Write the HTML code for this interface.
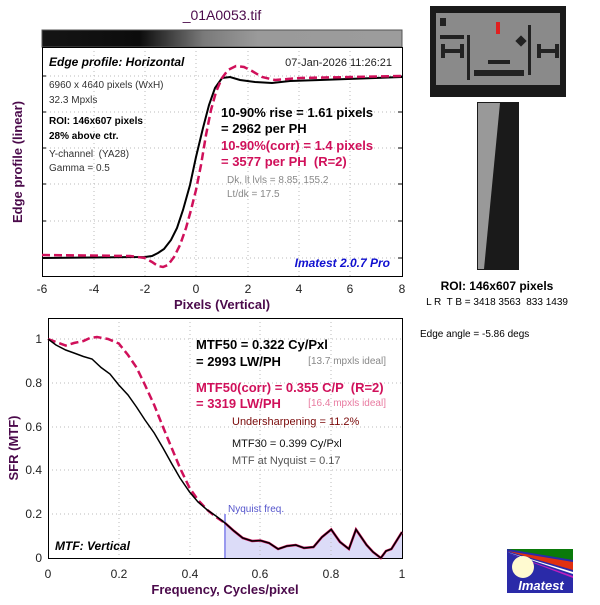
<!DOCTYPE html>
<html><head><style>
body{margin:0;background:#fff;}
svg text{font-family:"Liberation Sans",sans-serif;white-space:pre;}
</style></head><body>
<svg width="600" height="600" xmlns="http://www.w3.org/2000/svg">
<defs>
<linearGradient id="g" x1="42" x2="402" y1="0" y2="0" gradientUnits="userSpaceOnUse">
<stop offset="0" stop-color="#151515"/><stop offset="0.27" stop-color="#0c0c0c"/><stop offset="0.45" stop-color="#7a7a7a"/><stop offset="0.6" stop-color="#9a9a9a"/><stop offset="1" stop-color="#9c9c9c"/></linearGradient>
</defs>
<rect width="600" height="600" fill="#fff"/>
<text x="222" y="20" font-size="14" fill="#4b0a4b" text-anchor="middle">_01A0053.tif</text>
<rect x="42" y="30" width="360" height="17" fill="url(#g)" stroke="#555" stroke-width="1"/>
<g stroke="#bbb" stroke-dasharray="1,3" stroke-width="1">
<line x1="94" y1="47" x2="94" y2="276"/><line x1="145" y1="47" x2="145" y2="276"/><line x1="196" y1="47" x2="196" y2="276"/><line x1="248" y1="47" x2="248" y2="276"/><line x1="299" y1="47" x2="299" y2="276"/><line x1="350" y1="47" x2="350" y2="276"/>
<line x1="42" y1="76" x2="402" y2="76"/><line x1="42" y1="112" x2="402" y2="112"/><line x1="42" y1="148" x2="402" y2="148"/><line x1="42" y1="184" x2="402" y2="184"/><line x1="42" y1="221" x2="402" y2="221"/><line x1="42" y1="258" x2="402" y2="258"/>
</g>
<g stroke="#000"><line x1="42" y1="76" x2="46" y2="76"/><line x1="42" y1="112" x2="46" y2="112"/><line x1="42" y1="148" x2="46" y2="148"/><line x1="42" y1="184" x2="46" y2="184"/><line x1="42" y1="221" x2="46" y2="221"/><line x1="42" y1="258" x2="46" y2="258"/>
<line x1="402" y1="76" x2="398" y2="76"/><line x1="402" y1="112" x2="398" y2="112"/><line x1="402" y1="148" x2="398" y2="148"/><line x1="402" y1="184" x2="398" y2="184"/><line x1="402" y1="221" x2="398" y2="221"/><line x1="402" y1="258" x2="398" y2="258"/></g>
<rect x="42.5" y="47.5" width="360" height="229" fill="none" stroke="#000"/>
<polyline fill="none" stroke="#000" stroke-width="2" points="42,258 145,257 152,256 158,253 164,249 171,240 177,228 183,210 190,185 196,157 203,128 209,105 215,88 222,78 230,77 240,80 255,82 272,83 290,81 320,80 402,77"/>
<polyline fill="none" stroke="#d0105a" stroke-width="2.5" stroke-dasharray="8,4" points="42,255 130,256 145,258 152,262 158,266 163,267 168,265 174,257 180,245 186,228 191,210 196,190 201,165 206,135 211,110 216,92 222,78 228,70 236,66 244,67 252,71 262,77 275,80 300,78 402,76"/>
<text x="49" y="66" font-size="12" font-weight="bold" font-style="italic">Edge profile: Horizontal</text>
<text x="392" y="66" font-size="11" text-anchor="end" fill="#222">07-Jan-2026 11:26:21</text>
<text x="49" y="88" font-size="10" fill="#333">6960 x 4640 pixels (WxH)</text>
<text x="49" y="103" font-size="10" fill="#333">32.3 Mpxls</text>
<text x="49" y="124" font-size="10" font-weight="bold">ROI: 146x607 pixels</text>
<text x="49" y="139" font-size="10" font-weight="bold">28% above ctr.</text>
<text x="49" y="157" font-size="10" fill="#333">Y-channel  (YA28)</text>
<text x="49" y="171" font-size="10" fill="#333">Gamma = 0.5</text>
<text x="221" y="117" font-size="13" font-weight="bold">10-90% rise = 1.61 pixels</text>
<text x="221" y="133" font-size="13" font-weight="bold">= 2962 per PH</text>
<text x="221" y="150" font-size="13" font-weight="bold" fill="#d0105a">10-90%(corr) = 1.4 pixels</text>
<text x="221" y="166" font-size="13" font-weight="bold" fill="#d0105a">= 3577 per PH  (R=2)</text>
<text x="227" y="183" font-size="10" fill="#888">Dk, lt lvls = 8.85, 155.2</text>
<text x="227" y="197" font-size="10" fill="#888">Lt/dk = 17.5</text>
<text x="390" y="267" font-size="12" font-weight="bold" font-style="italic" fill="#1010d0" text-anchor="end">Imatest 2.0.7 Pro</text>
<g font-size="12" text-anchor="middle" fill="#222">
<text x="42" y="293">-6</text><text x="94" y="293">-4</text><text x="145" y="293">-2</text><text x="196" y="293">0</text><text x="248" y="293">2</text><text x="299" y="293">4</text><text x="350" y="293">6</text><text x="402" y="293">8</text>
</g>
<text x="222" y="309" font-size="13" font-weight="bold" fill="#4b0a4b" text-anchor="middle">Pixels (Vertical)</text>
<text transform="translate(22,162) rotate(-90)" font-size="13" font-weight="bold" fill="#4b0a4b" text-anchor="middle">Edge profile (linear)</text>
<polygon points="225,523 242.7,538 260.4,540.5 278.1,549 295.8,545 313.5,547 331.2,529.5 348.9,549 356,529.5 366.6,545 380.8,558 391.4,549 402,532 402,558 225,558" fill="#dcdcf8"/>
<g stroke="#bbb" stroke-dasharray="1,3" stroke-width="1">
<line x1="119" y1="318" x2="119" y2="558"/><line x1="190" y1="318" x2="190" y2="558"/><line x1="260" y1="318" x2="260" y2="558"/><line x1="331" y1="318" x2="331" y2="558"/>
<line x1="48" y1="339" x2="402" y2="339"/><line x1="48" y1="383" x2="402" y2="383"/><line x1="48" y1="427" x2="402" y2="427"/><line x1="48" y1="470" x2="402" y2="470"/><line x1="48" y1="514" x2="402" y2="514"/>
</g>
<line x1="225" y1="514" x2="225" y2="558" stroke="#9999ee" stroke-width="2"/>
<rect x="48.5" y="318.5" width="354" height="240" fill="none" stroke="#000"/>
<polyline fill="none" stroke="#d0105a" stroke-width="2.5" stroke-dasharray="8,4" points="48,339 56,342 65.7,345.5 74,343 83.4,341 90,338 97,337 108,339 118.8,343.5 128,355 136.5,367.5 145,385 154.2,405 163,427 171.9,448.5 180,468 189.6,488 198,500 207.3,510 216,517 225,523"/>
<polyline fill="none" stroke="#d0105a" stroke-width="2.5" points="225,523 234,531 242.7,538 252,541 260.4,540.5 269,543 278.1,549 287,546 295.8,545 304,548 313.5,547 322,537 331.2,529.5 340,542 348.9,549 356,529.5 366.6,545 373,552 380.8,558 386,551 391.4,549 402,532"/>
<polyline fill="none" stroke="#000" stroke-width="1.5" points="48,339 56,345 65.7,350 74,353 83.4,356.5 92,359 101.1,367.5 110,374 118.8,385 128,395 136.5,407 145,420 154.2,433 163,448 171.9,464 180,478 189.6,492 198,502 207.3,510 216,516 225,523 234,531 242.7,538 252,541 260.4,540.5 269,543 278.1,549 287,546 295.8,545 304,548 313.5,547 322,537 331.2,529.5 340,542 348.9,549 356,529.5 366.6,545 373,552 380.8,558 386,551 391.4,549 402,532"/>
<text x="196" y="349" font-size="13" font-weight="bold">MTF50 = 0.322 Cy/Pxl</text>
<text x="196" y="366" font-size="13" font-weight="bold">= 2993 LW/PH</text>
<text x="386" y="364" font-size="10" fill="#888" text-anchor="end">[13.7 mpxls ideal]</text>
<text x="196" y="392" font-size="13" font-weight="bold" fill="#d0105a">MTF50(corr) = 0.355 C/P  (R=2)</text>
<text x="196" y="408" font-size="13" font-weight="bold" fill="#d0105a">= 3319 LW/PH</text>
<text x="386" y="406" font-size="10" fill="#e87aa0" text-anchor="end">[16.4 mpxls ideal]</text>
<text x="232" y="425" font-size="11" fill="#7a0a0a">Undersharpening = 11.2%</text>
<text x="232" y="447" font-size="11" fill="#111">MTF30 = 0.399 Cy/Pxl</text>
<text x="232" y="464" font-size="11" fill="#555">MTF at Nyquist = 0.17</text>
<text x="228" y="512" font-size="10" fill="#5555cc">Nyquist freq.</text>
<text x="55" y="550" font-size="12" font-weight="bold" font-style="italic">MTF: Vertical</text>
<g font-size="12" text-anchor="end" fill="#222">
<text x="42" y="343">1</text><text x="42" y="387">0.8</text><text x="42" y="431">0.6</text><text x="42" y="474">0.4</text><text x="42" y="518">0.2</text><text x="42" y="562">0</text>
</g>
<g font-size="12" text-anchor="middle" fill="#222">
<text x="48" y="578">0</text><text x="119" y="578">0.2</text><text x="190" y="578">0.4</text><text x="260" y="578">0.6</text><text x="331" y="578">0.8</text><text x="402" y="578">1</text>
</g>
<text x="225" y="594" font-size="13" font-weight="bold" fill="#4b0a4b" text-anchor="middle">Frequency, Cycles/pixel</text>
<text transform="translate(18,448) rotate(-90)" font-size="13" font-weight="bold" fill="#4b0a4b" text-anchor="middle">SFR (MTF)</text>
<rect x="430" y="6" width="136" height="91" fill="#1a1a1a"/>
<rect x="436" y="13" width="124" height="72" fill="#8a8a8a"/>
<g fill="#222">
<rect x="440" y="18" width="6" height="8"/><rect x="440" y="35" width="24" height="4"/><rect x="441" y="44" width="4" height="14"/><rect x="460" y="44" width="4" height="14"/><rect x="441" y="49" width="22" height="4"/>
<rect x="537" y="44" width="4" height="14"/><rect x="555" y="44" width="4" height="14"/><rect x="537" y="49" width="22" height="4"/>
<rect x="467" y="35" width="3" height="45"/><rect x="528" y="25" width="3" height="50"/><rect x="488" y="60" width="22" height="4"/><rect x="474" y="70" width="50" height="6"/>
<rect x="517" y="37" width="8" height="8" transform="rotate(45 521 41)"/>
</g>
<rect x="496" y="22" width="4" height="12" fill="#e02020"/>
<rect x="477" y="102" width="42" height="168" fill="#1a1a1a"/>
<polygon points="478,103 500,103 484,269 478,269" fill="#999"/>
<text x="497" y="290" font-size="12" font-weight="bold" text-anchor="middle">ROI: 146x607 pixels</text>
<text x="497" y="305" font-size="10" text-anchor="middle">L R  T B = 3418 3563  833 1439</text>
<text x="420" y="337" font-size="10">Edge angle = -5.86 degs</text>
<rect x="507" y="549" width="66" height="44" fill="#2a2aa8"/>
<polygon points="507,549 573,549 573,560" fill="#0a7a0a"/>
<polygon points="507,551 573,562 573,570" fill="#e03010"/>
<polygon points="507,552 573,572 573,574" fill="#fff"/>
<polygon points="507,553 573,576 573,578" fill="#c020c0"/>
<circle cx="523" cy="567" r="11" fill="#fffad0"/>
<text x="541" y="590" font-size="13" font-weight="bold" font-style="italic" fill="#fff" text-anchor="middle">Imatest</text>
</svg>
</body></html>
